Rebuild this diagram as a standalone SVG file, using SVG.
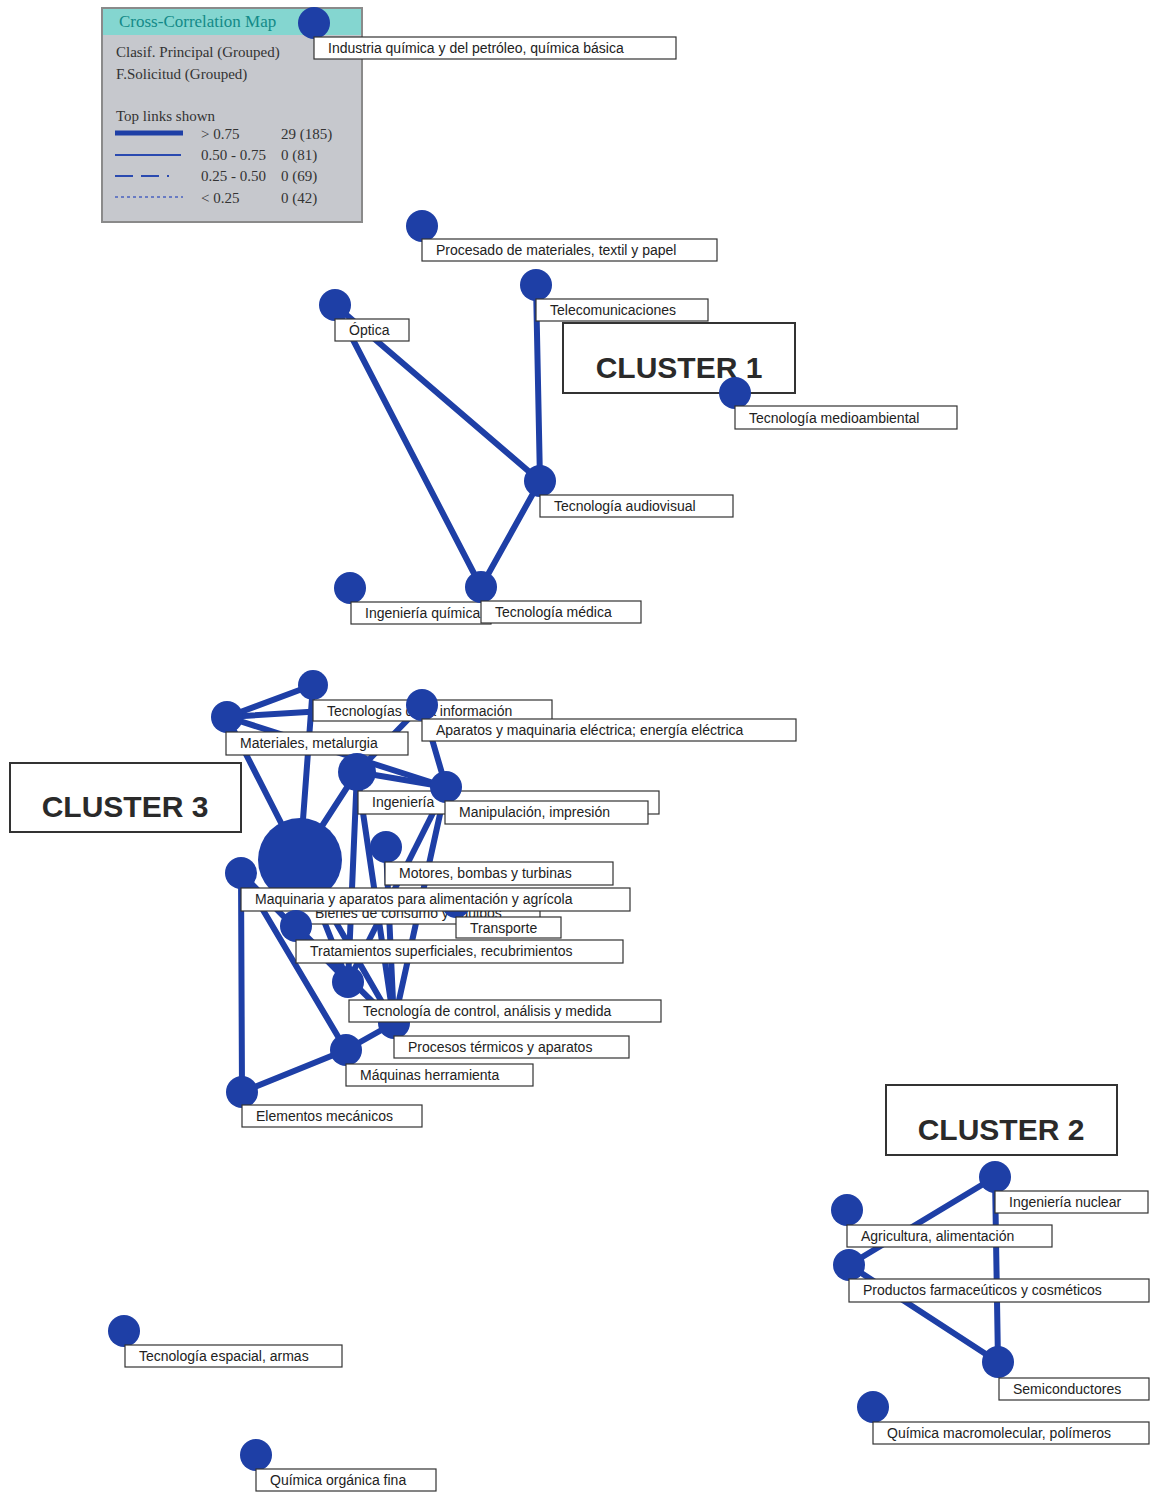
<svg xmlns="http://www.w3.org/2000/svg" width="1151" height="1492" viewBox="0 0 1151 1492">
<style>
.n{fill:#1e3fa6}
.b{fill:#fff;stroke:#333;stroke-width:1.2}
.t{font-family:"Liberation Sans",Arial,sans-serif;font-size:14px;fill:#222}
.e{stroke:#1e3fa6;stroke-width:6;stroke-linecap:round;fill:none}
.cb{fill:#fff;stroke:#333;stroke-width:2}
.ct{font-family:"Liberation Sans",Arial,sans-serif;font-size:30px;font-weight:bold;fill:#2a2a2a;text-anchor:middle}
.lg{font-family:"Liberation Serif","Times New Roman",serif;font-size:15px;fill:#333}
</style>
<rect width="1151" height="1492" fill="#fff"/>

<g id="legend">
<rect x="102" y="8" width="260" height="214" fill="#c6c8cd" stroke="#8a8a8a" stroke-width="2"/>
<rect x="103" y="9" width="258" height="26" fill="#84d6d0"/>
<text x="119" y="27" class="lg" style="font-size:17px;fill:#138a88">Cross-Correlation Map</text>
<text x="116" y="57" class="lg">Clasif. Principal (Grouped)</text>
<text x="116" y="79" class="lg">F.Solicitud (Grouped)</text>
<text x="116" y="121" class="lg">Top links shown</text>
<line x1="115" y1="133" x2="183" y2="133" stroke="#1e3fa6" stroke-width="5"/>
<line x1="115" y1="155" x2="181" y2="155" stroke="#2a4ab0" stroke-width="2"/>
<line x1="115" y1="176" x2="183" y2="176" stroke="#2a4ab0" stroke-width="2" stroke-dasharray="18,8,18,8,2"/>
<line x1="115" y1="197" x2="183" y2="197" stroke="#4a62c0" stroke-width="1.5" stroke-dasharray="3,3"/>
<text x="201" y="139" class="lg">&gt; 0.75</text>
<text x="281" y="139" class="lg">29 (185)</text>
<text x="201" y="160" class="lg">0.50 - 0.75</text>
<text x="281" y="160" class="lg">0 (81)</text>
<text x="201" y="181" class="lg">0.25 - 0.50</text>
<text x="281" y="181" class="lg">0 (69)</text>
<text x="201" y="203" class="lg">&lt; 0.25</text>
<text x="281" y="203" class="lg">0 (42)</text>
</g>

<g id="connectors">
<line class="e" x1="335" y1="305" x2="540" y2="481"/>
<line class="e" x1="335" y1="305" x2="481" y2="587"/>
<line class="e" x1="536" y1="285" x2="540" y2="481"/>
<line class="e" x1="540" y1="481" x2="481" y2="587"/>
<line class="e" x1="995" y1="1177" x2="849" y2="1265"/>
<line class="e" x1="995" y1="1177" x2="998" y2="1362"/>
<line class="e" x1="849" y1="1265" x2="998" y2="1362"/>
<line class="e" x1="227" y1="717" x2="313" y2="685"/>
<line class="e" x1="227" y1="717" x2="422" y2="705"/>
<line class="e" x1="227" y1="717" x2="300" y2="860"/>
<line class="e" x1="227" y1="717" x2="446" y2="787"/>
<line class="e" x1="313" y1="685" x2="300" y2="860"/>
<line class="e" x1="422" y1="705" x2="357" y2="772"/>
<line class="e" x1="422" y1="705" x2="446" y2="787"/>
<line class="e" x1="357" y1="772" x2="446" y2="787"/>
<line class="e" x1="357" y1="772" x2="300" y2="860"/>
<line class="e" x1="357" y1="772" x2="348" y2="982"/>
<line class="e" x1="357" y1="772" x2="394" y2="1023"/>
<line class="e" x1="446" y1="787" x2="348" y2="982"/>
<line class="e" x1="446" y1="787" x2="394" y2="1023"/>
<line class="e" x1="300" y1="860" x2="348" y2="982"/>
<line class="e" x1="300" y1="860" x2="394" y2="1023"/>
<line class="e" x1="386" y1="847" x2="394" y2="1023"/>
<line class="e" x1="296" y1="926" x2="394" y2="1023"/>
<line class="e" x1="241" y1="873" x2="242" y2="1092"/>
<line class="e" x1="241" y1="873" x2="346" y2="1050"/>
<line class="e" x1="241" y1="873" x2="348" y2="982"/>
<line class="e" x1="242" y1="1092" x2="346" y2="1050"/>
<line class="e" x1="346" y1="1050" x2="394" y2="1023"/>
</g>

<g id="cluster1-label"><rect class="cb" x="563" y="323" width="232" height="70"/><text class="ct" x="679" y="378">CLUSTER 1</text></g>
<g id="cluster3-label"><rect class="cb" x="10" y="763" width="231" height="69"/><text class="ct" x="125" y="817">CLUSTER 3</text></g>
<g id="cluster2-label"><rect class="cb" x="886" y="1085" width="231" height="70"/><text class="ct" x="1001" y="1140">CLUSTER 2</text></g>

<g id="n-industria"><circle class="n" cx="314" cy="23" r="16"/><rect class="b" x="314" y="37" width="362" height="22"/><text class="t" x="328" y="53">Industria química y del petróleo, química básica</text></g>
<g id="n-procesado"><circle class="n" cx="422" cy="226" r="16"/><rect class="b" x="422" y="239" width="295" height="22"/><text class="t" x="436" y="255">Procesado de materiales, textil y papel</text></g>
<g id="n-telecom"><circle class="n" cx="536" cy="285" r="16"/><rect class="b" x="536" y="299" width="172" height="22"/><text class="t" x="550" y="315">Telecomunicaciones</text></g>
<g id="n-optica"><circle class="n" cx="335" cy="305" r="16"/><rect class="b" x="335" y="319" width="74" height="22"/><text class="t" x="349" y="335">Óptica</text></g>
<g id="n-medioambiental"><circle class="n" cx="735" cy="393" r="16"/><rect class="b" x="735" y="406" width="222" height="23"/><text class="t" x="749" y="423">Tecnología medioambiental</text></g>
<g id="n-audiovisual"><circle class="n" cx="540" cy="481" r="16"/><rect class="b" x="540" y="495" width="193" height="22"/><text class="t" x="554" y="511">Tecnología audiovisual</text></g>
<g id="n-ingquimica"><circle class="n" cx="350" cy="588" r="16"/><rect class="b" x="351" y="602" width="140" height="22"/><text class="t" x="365" y="618">Ingeniería química</text></g>
<g id="n-medica"><circle class="n" cx="481" cy="587" r="16"/><rect class="b" x="481" y="601" width="160" height="22"/><text class="t" x="495" y="617">Tecnología médica</text></g>

<g id="n-tecinfo"><circle class="n" cx="313" cy="685" r="15"/><rect class="b" x="313" y="700" width="239" height="21"/><text class="t" x="327" y="716">Tecnologías de la información</text></g>
<g id="n-aparatos"><circle class="n" cx="422" cy="705" r="16"/><rect class="b" x="422" y="719" width="374" height="22"/><text class="t" x="436" y="735">Aparatos y maquinaria eléctrica; energía eléctrica</text></g>
<g id="n-materiales"><circle class="n" cx="227" cy="717" r="16"/><rect class="b" x="226" y="732" width="182" height="23"/><text class="t" x="240" y="748">Materiales, metalurgia</text></g>
<g id="n-ingenieria"><circle class="n" cx="357" cy="772" r="19"/><rect class="b" x="358" y="791" width="301" height="23"/><text class="t" x="372" y="807">Ingeniería</text></g>
<g id="n-manipulacion"><circle class="n" cx="446" cy="787" r="16"/><rect class="b" x="445" y="801" width="203" height="23"/><text class="t" x="459" y="817">Manipulación, impresión</text></g>
<g id="n-bienes"><circle class="n" cx="300" cy="860" r="42"/><rect class="b" x="300" y="902" width="240" height="22"/><text class="t" x="315" y="918">Bienes de consumo y equipos</text></g>
<g id="n-motores"><circle class="n" cx="386" cy="847" r="16"/><rect class="b" x="385" y="862" width="228" height="23"/><text class="t" x="399" y="878">Motores, bombas y turbinas</text></g>
<g id="n-transporte"><circle class="n" cx="456" cy="904" r="14"/><rect class="b" x="456" y="917" width="105" height="21"/><text class="t" x="470" y="933">Transporte</text></g>
<g id="n-maquinaria"><circle class="n" cx="241" cy="873" r="16"/><rect class="b" x="241" y="888" width="389" height="23"/><text class="t" x="255" y="904">Maquinaria y aparatos para alimentación y agrícola</text></g>
<g id="n-tratamientos"><circle class="n" cx="296" cy="926" r="16"/><rect class="b" x="296" y="940" width="327" height="23"/><text class="t" x="310" y="956">Tratamientos superficiales, recubrimientos</text></g>
<g id="n-procesos"><circle class="n" cx="394" cy="1023" r="16"/><rect class="b" x="394" y="1036" width="235" height="22"/><text class="t" x="408" y="1052">Procesos térmicos y aparatos</text></g>
<g id="n-control"><circle class="n" cx="348" cy="982" r="16"/><rect class="b" x="349" y="1000" width="312" height="22"/><text class="t" x="363" y="1016">Tecnología de control, análisis y medida</text></g>
<g id="n-maquinas"><circle class="n" cx="346" cy="1050" r="16"/><rect class="b" x="346" y="1064" width="187" height="22"/><text class="t" x="360" y="1080">Máquinas herramienta</text></g>
<g id="n-elementos"><circle class="n" cx="242" cy="1092" r="16"/><rect class="b" x="242" y="1105" width="180" height="22"/><text class="t" x="256" y="1121">Elementos mecánicos</text></g>

<g id="n-nuclear"><circle class="n" cx="995" cy="1177" r="16"/><rect class="b" x="995" y="1191" width="153" height="22"/><text class="t" x="1009" y="1207">Ingeniería nuclear</text></g>
<g id="n-agricultura"><circle class="n" cx="847" cy="1210" r="16"/><rect class="b" x="847" y="1225" width="205" height="22"/><text class="t" x="861" y="1241">Agricultura, alimentación</text></g>
<g id="n-productos"><circle class="n" cx="849" cy="1265" r="16"/><rect class="b" x="849" y="1279" width="300" height="23"/><text class="t" x="863" y="1295">Productos farmaceúticos y cosméticos</text></g>
<g id="n-semi"><circle class="n" cx="998" cy="1362" r="16"/><rect class="b" x="999" y="1378" width="150" height="22"/><text class="t" x="1013" y="1394">Semiconductores</text></g>
<g id="n-macro"><circle class="n" cx="873" cy="1407" r="16"/><rect class="b" x="873" y="1422" width="276" height="22"/><text class="t" x="887" y="1438">Química macromolecular, polímeros</text></g>
<g id="n-espacial"><circle class="n" cx="124" cy="1331" r="16"/><rect class="b" x="125" y="1345" width="217" height="22"/><text class="t" x="139" y="1361">Tecnología espacial, armas</text></g>
<g id="n-organica"><circle class="n" cx="256" cy="1455" r="16"/><rect class="b" x="256" y="1469" width="180" height="22"/><text class="t" x="270" y="1485">Química orgánica fina</text></g>
</svg>
